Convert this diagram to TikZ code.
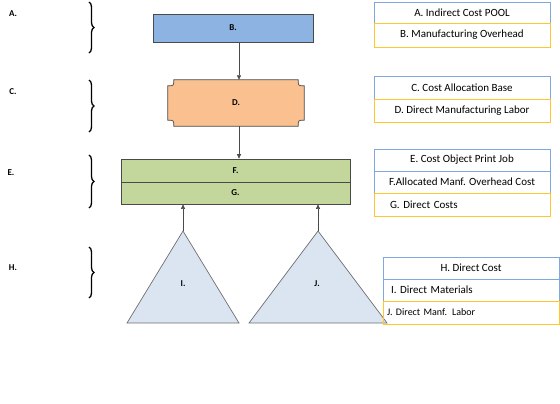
\documentclass[tikz,border=0pt]{standalone}
\usepackage{fontspec}
\setmainfont{Carlito}
\usetikzlibrary{arrows.meta,decorations.pathreplacing}
\definecolor{bfill}{HTML}{8DB3E2}
\definecolor{ofill}{HTML}{FAC08F}
\definecolor{gfill}{HTML}{C3D69B}
\definecolor{tfill}{HTML}{DBE5F1}
\definecolor{edge}{HTML}{4A4A4A}
\definecolor{tedge}{HTML}{6F6F6F}
\definecolor{bline}{HTML}{7FA8DE}
\definecolor{yline}{HTML}{FFC72C}
\begin{document}
\begin{tikzpicture}[x=1pt,y=-1pt,
  shapebox/.style={draw=edge,line width=0.7pt,inner sep=0pt,font=\fontsize{9}{10}\selectfont\bfseries},
  arr/.style={draw=edge,line width=0.6pt,-{Triangle[length=4.5pt,width=4pt]}},
  lab/.style={font=\fontsize{9}{10}\selectfont\bfseries,inner sep=0pt},
  brc/.style={decorate,decoration={brace,amplitude=5pt},line width=1.3pt},
  rbox/.style={line width=0.9pt,minimum width=176pt,inner sep=0pt,font=\fontsize{11}{12}\selectfont},
  blubox/.style={rbox,draw=bline},
  yelbox/.style={rbox,draw=yline}]
\useasboundingbox (0,0) rectangle (560,404);
% left labels
\node[lab] (la) at (13,14) {A.};
\node[lab] (lc) at (13,92) {C.};
\node[lab] (le) at (11,173) {E.};
\node[lab] (lh) at (13,268) {H.};
% braces
\draw[brc] (89,2) -- (89,53);
\draw[brc] (89,80) -- (89,132);
\draw[brc] (89,155) -- (89,208);
\draw[brc] (89,247) -- (89,298);
% B box
\node[shapebox,fill=bfill,minimum width=160pt,minimum height=28pt] (b) at (233,28) {B.};
% D plaque
\node[lab,minimum width=136pt,minimum height=46pt] (d) at (236,103) {D.};
\def\r{6}
\draw[draw=edge,line width=0.7pt,fill=ofill]
  ([xshift=\r pt]d.north west) -- ([xshift=-\r pt]d.north east)
  .. controls ([xshift=-\r pt,yshift=-\r pt]d.north east) .. ([yshift=-\r pt]d.north east)
  -- ([yshift=\r pt]d.south east)
  .. controls ([xshift=-\r pt,yshift=\r pt]d.south east) .. ([xshift=-\r pt]d.south east)
  -- ([xshift=\r pt]d.south west)
  .. controls ([xshift=\r pt,yshift=\r pt]d.south west) .. ([yshift=\r pt]d.south west)
  -- ([yshift=-\r pt]d.north west)
  .. controls ([xshift=\r pt,yshift=-\r pt]d.north west) .. cycle;
\node[lab] at (d.center) {D.};
% F, G
\node[shapebox,fill=gfill,minimum width=229pt,minimum height=23pt] (f) at (235.5,170.5) {F.};
\node[shapebox,fill=gfill,minimum width=229pt,minimum height=22pt] (g) at (235.5,193) {G.};
% arrows
\coordinate (col) at (239,0);
\draw[arr] (b.south -| col) -- (d.north -| col);
\draw[arr] (d.south -| col) -- (f.north -| col);
% triangles
\coordinate (ia) at (183,231);
\coordinate (ja) at (318,231);
\draw[draw=tedge,line width=0.7pt,fill=tfill] (ia) -- (239,323) -- (127,323) -- cycle;
\draw[draw=tedge,line width=0.7pt,fill=tfill] (ja) -- (387,323) -- (249,323) -- cycle;
\node[lab] (i) at (183,284) {I.};
\node[lab] (j) at (317,284) {J.};
\draw[arr] (ia) -- (ia |- g.south);
\draw[arr] (ja) -- (ja |- g.south);
% right boxes
\node[blubox,minimum height=21pt] (ra) at (462,12.5) {A. Indirect Cost POOL};
\node[yelbox,minimum height=24pt] (rb) at (462,35) {B. Manufacturing Overhead};
\node[blubox,minimum height=23pt] (rc) at (462,87.5) {C. Cost Allocation Base};
\node[yelbox,minimum height=23pt] (rd) at (462,110.5) {D. Direct Manufacturing Labor};
\node[blubox,minimum height=22pt] (re) at (462,160) {E. Cost Object Print Job};
\node[blubox,minimum height=22pt] (rf) at (462,182) {F.Allocated Manf. Overhead Cost};
\node[yelbox,minimum height=23pt,text width=144pt,align=left] (rg) at (462,204.5) {G. Direct Costs};
\node[blubox,minimum height=22pt] (rh) at (471,268) {H. Direct Cost};
\node[blubox,minimum height=22pt,text width=160pt,align=left] (ri) at (471,290) {I. Direct Materials};
\node[yelbox,minimum height=23pt,text width=168pt,align=left,font=\fontsize{10}{11}\selectfont] (rj) at (471,312.5) {J. Direct Manf. Labor};
\end{tikzpicture}
\end{document}
